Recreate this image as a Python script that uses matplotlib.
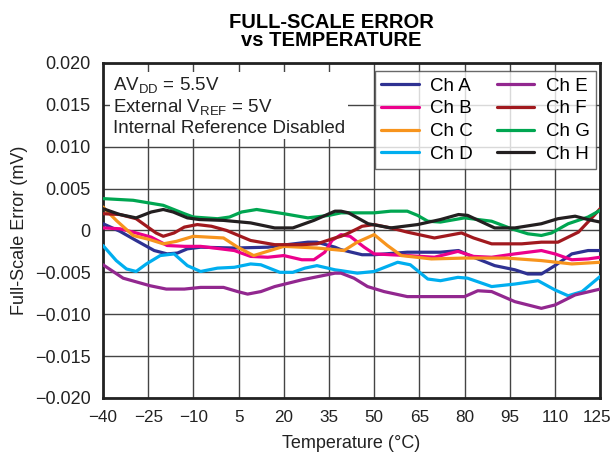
import matplotlib
matplotlib.use("Agg")
import matplotlib.pyplot as plt
from matplotlib.ticker import FuncFormatter
from matplotlib.transforms import ScaledTranslation
import numpy as np

plt.rcParams['font.family'] = ['Liberation Sans', 'DejaVu Sans']

# Data (values in units of 1e-3)
t_a = [-40, -34.4, -29, -23, -18.7, -15.3, -12, -7.6, 3.6, 14.7, 21, 28, 31, 37, 39, 46, 50, 61, 72, 78, 83, 90, 96.7, 101, 105.5, 110, 115.6, 121, 125]
v_a = [0.8, -0.1, -1.2, -2.4, -2.8, -2.7, -2.2, -2.0, -2.1, -2.0, -1.7, -1.4, -1.4, -2.0, -2.3, -2.9, -2.9, -2.6, -2.6, -2.4, -3.2, -4.2, -4.7, -5.2, -5.2, -4.2, -2.8, -2.4, -2.4]

t_b = [-40, -34.4, -30, -24, -18.7, -13, -7.6, 3.6, 9, 14.7, 20, 26, 30, 33.6, 36, 39, 42, 46.7, 50, 61, 70, 77.8, 83, 89, 96.7, 105.5, 110, 115.6, 121, 125]
v_b = [0.3, 0.2, -0.2, -0.8, -1.8, -1.9, -1.9, -2.4, -3.1, -3.2, -3.0, -3.5, -3.5, -2.6, -1.2, -0.5, -0.7, -2.0, -2.8, -3.0, -3.2, -2.5, -3.1, -3.2, -2.8, -2.4, -2.8, -3.5, -3.4, -3.2]

t_c = [-40, -35.6, -30, -24.4, -20, -15.6, -10, 0, 4.7, 10, 20, 31, 40, 44.4, 50, 54.4, 59, 69, 80, 94, 105.5, 115.6, 125]
v_c = [2.8, 1.2, -0.6, -1.1, -1.6, -1.3, -0.7, -0.9, -2.0, -3.0, -1.9, -2.1, -2.4, -1.4, -0.5, -1.8, -3.0, -3.4, -3.3, -3.3, -3.6, -4.0, -3.8]

t_d = [-40, -35.6, -32.2, -29, -25.6, -21, -16.4, -12, -7.6, -2, 3.6, 9, 12.4, 18.7, 23, 27, 31, 37, 39, 44.4, 50, 57.8, 62, 67.8, 72, 77.8, 81, 89, 96.7, 104.4, 110, 114.4, 119, 125]
v_d = [-1.8, -3.6, -4.6, -4.9, -4.0, -3.0, -2.8, -4.2, -4.9, -4.5, -4.4, -4.0, -4.1, -5.0, -5.0, -4.5, -4.2, -4.7, -4.8, -5.1, -4.9, -3.8, -4.1, -5.8, -6.0, -5.6, -5.7, -6.7, -6.4, -6.0, -7.1, -7.8, -7.3, -5.5]

t_e = [-40, -33.3, -24.4, -19, -13, -7.6, 0, 4.7, 8, 12.4, 17, 26, 37, 39, 43.3, 47.8, 53.3, 61, 72, 80, 84.4, 89, 96.7, 105.5, 110, 116.7, 125]
v_e = [-4.1, -5.7, -6.6, -7.0, -7.0, -6.8, -6.8, -7.3, -7.6, -7.3, -6.7, -5.9, -5.1, -5.1, -5.7, -6.7, -7.3, -7.9, -7.9, -7.9, -7.2, -7.3, -8.5, -9.3, -8.9, -7.7, -7.0]

t_f = [-40, -34.4, -29, -22.4, -20, -16.4, -13, -8.7, -4, 1, 9, 17, 26, 31, 37, 39, 41, 44.4, 46, 50, 55.5, 61, 70, 79, 83, 89, 99, 105.5, 111, 117.8, 122, 125]
v_f = [2.0, 1.9, 1.4, -0.3, -0.7, -0.3, 0.4, 0.7, 0.5, 0.0, -1.2, -1.7, -1.7, -1.6, -0.9, -0.7, -0.4, 0.2, 0.5, 0.7, 0.3, -0.2, -0.9, -0.3, -0.9, -1.6, -1.6, -1.4, -1.4, -0.2, 1.4, 2.6]

t_g = [-40, -30, -20, -13, -10, -2, 2, 6, 11, 20, 28, 35, 39, 41, 50, 55.5, 61, 64.4, 67.8, 72, 80, 89, 95.6, 101, 105.5, 108.9, 114.4, 121, 125]
v_g = [3.8, 3.6, 3.0, 2.0, 1.6, 1.4, 1.6, 2.2, 2.5, 2.0, 1.5, 1.8, 2.1, 2.1, 2.1, 2.3, 2.3, 1.8, 1.1, 1.0, 1.5, 1.1, 0.2, -0.4, -0.6, -0.3, 0.8, 1.6, 2.4]

t_h = [-40, -34.4, -29, -24, -20, -16.7, -12, -8, 0, 9, 17, 23, 30, 37, 39, 41.5, 48, 55.5, 64.4, 72, 78, 81, 90, 96.7, 105.5, 111, 116.7, 121, 125]
v_h = [2.6, 1.9, 1.5, 2.2, 2.5, 2.2, 1.5, 1.3, 1.2, 0.9, 0.3, 0.3, 1.2, 2.3, 2.3, 2.1, 0.8, 0.3, 0.7, 1.3, 1.9, 1.8, 0.3, 0.3, 0.8, 1.4, 1.7, 1.3, 1.0]

labels = ['Ch A', 'Ch B', 'Ch C', 'Ch D', 'Ch E', 'Ch F', 'Ch G', 'Ch H']
colors = ['#2E3192', '#EC008C', '#F7941D', '#00AEEF', '#92278F', '#A1191E', '#00A651', '#231F20']
series = [(t_a, v_a), (t_b, v_b), (t_c, v_c), (t_d, v_d), (t_e, v_e), (t_f, v_f), (t_g, v_g), (t_h, v_h)]

x_ticks = [-40, -25, -10, 5, 20, 35, 50, 65, 80, 95, 110, 125]
y_ticks = [-0.020, -0.015, -0.010, -0.005, 0, 0.005, 0.010, 0.015, 0.020]

fig = plt.figure(figsize=(6.13, 4.66), dpi=100)
ax = fig.add_axes([0.168, 0.146, 0.811, 0.719])

for (t, v), lab, c in zip(series, labels, colors):
    ax.plot(t, np.array(v) * 1e-3, color=c, lw=2.3, label=lab, solid_joinstyle='round', solid_capstyle='round', zorder=3)

ax.set_xlim(-40, 125)
ax.set_ylim(-0.020, 0.020)
ax.set_xticks(x_ticks)
ax.set_yticks(y_ticks)

def xfmt(v, p):
    s = '%d' % round(v)
    return s.replace('-', '\u2212')

def yfmt(v, p):
    if abs(v) < 1e-12:
        return '0'
    return ('%.3f' % v).replace('-', '\u2212')

ax.xaxis.set_major_formatter(FuncFormatter(xfmt))
ax.yaxis.set_major_formatter(FuncFormatter(yfmt))
ax.tick_params(axis='x', length=0, labelsize=12.3, colors='#222222', pad=9)
ax.tick_params(axis='y', length=0, labelsize=13, colors='#222222', pad=9)
ax.grid(True, color='#444444', lw=1.0, zorder=0)
for s in ax.spines.values():
    s.set_linewidth(2.0)
    s.set_color('#222222')

# nudge the last x tick label slightly so it stays inside the figure
last = ax.get_xticklabels()[-1]
last.set_transform(last.get_transform() + ScaledTranslation(-3 / 100, 0, fig.dpi_scale_trans))

ax.set_xlabel('Temperature (\u00b0C)', fontsize=13, color='#222222', labelpad=7)
ax.set_ylabel('Full-Scale Error (mV)', fontsize=13, color='#222222', labelpad=5)
fig.text(0.541, 0.972, 'FULL-SCALE ERROR\nvs TEMPERATURE', ha='center', va='top',
         fontsize=14.5, fontweight='bold', linespacing=0.92)

ax.text(0.02, 0.962, 'AV$_{\\mathregular{DD}}$ = 5.5V\nExternal V$_{\\mathregular{REF}}$ = 5V\nInternal Reference Disabled',
        transform=ax.transAxes, ha='left', va='top', fontsize=13.5, color='#222222', linespacing=1.12,
        bbox=dict(facecolor='white', edgecolor='none', pad=2), zorder=5)

leg = ax.legend(ncol=2, loc='upper right', bbox_to_anchor=(0.992, 0.976), borderaxespad=0,
                fontsize=13.5, frameon=True, fancybox=False, handlelength=2.0, handletextpad=0.6,
                columnspacing=1.3, labelspacing=0.3, borderpad=0.35)
leg.get_frame().set_edgecolor('#444444')
leg.get_frame().set_linewidth(1.0)
leg.set_zorder(6)

fig.savefig('out.png', dpi=100)
